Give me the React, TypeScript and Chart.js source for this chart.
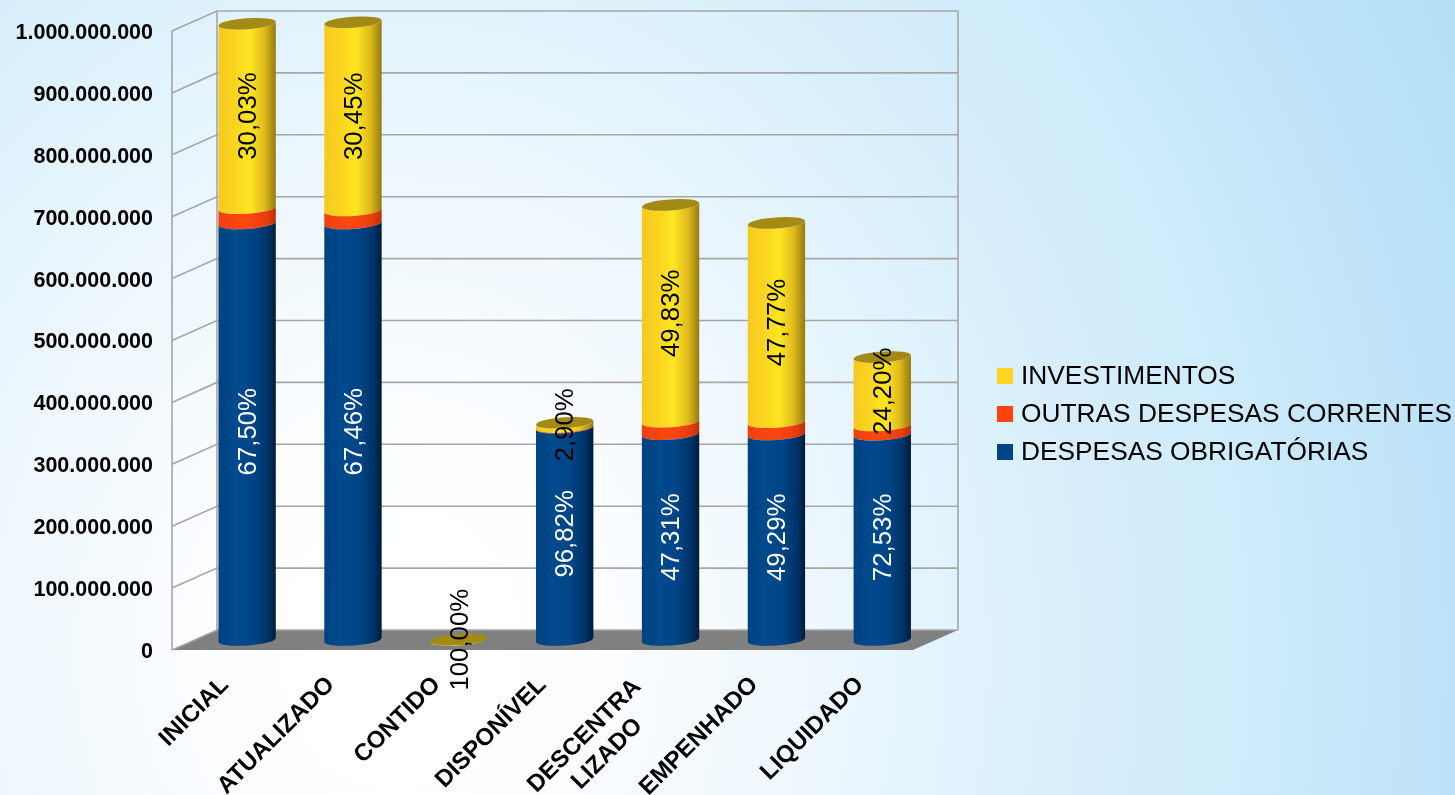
import React, { useEffect, useRef } from "react";
import { Chart, registerables, BarController } from "chart.js";

const categories = ["INICIAL", "ATUALIZADO", "CONTIDO", "DISPONÍVEL", ["DESCENTRA", "LIZADO    "], "EMPENHADO", "LIQUIDADO"];
const obrigatorias = [673e6, 673e6, 0, 343e6, 332.6e6, 332e6, 331.5e6];
const outras = [24.5e6, 21e6, 0, 1e6, 20e6, 19.8e6, 15e6];
const investimentos = [298e6, 304e6, 1e6, 7e6, 350.3e6, 322e6, 110.6e6];
const obrigatoriasLabels = ["67,50%", "67,46%", "", "96,82%", "47,31%", "49,29%", "72,53%"];
const investimentosLabels = ["30,03%", "30,45%", "100,00%", "2,90%", "49,83%", "47,77%", "24,20%"];

const FONT = "'Liberation Sans', Arial, sans-serif";
const DX = 45;
const DY = 20;
const TILT = (-4 * Math.PI) / 180;
const RY = 5.5;

const STOPS: Record<string, [number, string][]> = {
  blue: [[0, "#00427f"], [0.3, "#004a8e"], [0.6, "#004586"], [0.85, "#00346a"], [1, "#001c38"]],
  red: [[0, "#f04010"], [0.5, "#ff480e"], [0.85, "#e83c0c"], [1, "#b8300a"]],
  yellow: [[0, "#f5c91f"], [0.3, "#fbd520"], [0.55, "#ffe621"], [0.8, "#e0ba1c"], [1, "#937a10"]],
};

class CylinderController extends BarController {
  static id = "cylinder";
  static defaults = BarController.defaults;
  static overrides = BarController.overrides;
  draw() {
    const ctx = this.chart.ctx;
    const meta = this.getMeta();
    const ds: any = this.getDataset();
    const isTop = this.index === this.chart.data.datasets.length - 1;
    meta.data.forEach((bar: any, i: number) => {
      const { x, y, base, width } = bar.getProps(["x", "y", "base", "width"], true);
      const cx = x + DX / 2 - 0.3;
      const top = y - DY / 2;
      const bot = base - DY / 2;
      const rx = width / 2;
      const val = ds.data[i];
      if (!val) return;
      const g = ctx.createLinearGradient(cx - rx, 0, cx + rx, 0);
      STOPS[ds.shade].forEach(([o, c]) => g.addColorStop(o, c));
      ctx.save();
      ctx.fillStyle = g;
      ctx.beginPath();
      ctx.ellipse(cx, top, rx, RY, TILT, 0, Math.PI);
      ctx.ellipse(cx, bot, rx, RY, TILT, Math.PI, 0, true);
      ctx.closePath();
      ctx.fill();
      if (isTop) {
        ctx.fillStyle = ds.capColor;
        ctx.beginPath();
        ctx.ellipse(cx, top, rx, RY, TILT, 0, Math.PI * 2);
        ctx.fill();
      }
      ctx.restore();
    });
  }
}

Chart.register(...registerables, CylinderController);

const shiftTicksPlugin = {
  id: "shiftTicks",
  beforeDraw(chart: any) {
    const items = chart.scales.y.getLabelItems();
    if (!items.shifted) {
      items.forEach((it: any) => { it.textOffset += 2; });
      items.shifted = true;
    }
    const xItems = chart.scales.x.getLabelItems();
    if (!xItems.shifted) {
      xItems.forEach((it: any) => {
        if (Array.isArray(it.label)) {
          it.options.translation[0] -= 11;
          it.options.translation[1] += 2;
        }
      });
      xItems.shifted = true;
    }
  },
};

const wallsPlugin = {
  id: "walls",
  beforeDatasetsDraw(chart: any) {
    const { ctx, scales } = chart;
    const { x, y } = scales;
    const y0 = y.getPixelForValue(0);
    const yTop = y.getPixelForValue(1e9);
    ctx.save();
    ctx.fillStyle = "#808080";
    ctx.beginPath();
    ctx.moveTo(x.left, y0);
    ctx.lineTo(x.right, y0);
    ctx.lineTo(x.right + DX, y0 - DY);
    ctx.lineTo(x.left + DX, y0 - DY);
    ctx.closePath();
    ctx.fill();
    ctx.strokeStyle = "#a6a6a6";
    ctx.lineWidth = 1.6;
    y.ticks.forEach((t: any) => {
      const py = y.getPixelForValue(t.value);
      ctx.beginPath();
      ctx.moveTo(x.left, py);
      ctx.lineTo(x.left + DX, py - DY);
      ctx.lineTo(x.right + DX, py - DY);
      ctx.stroke();
    });
    ctx.beginPath();
    ctx.moveTo(x.left, y0);
    ctx.lineTo(x.left, yTop);
    ctx.moveTo(x.left + DX, y0 - DY);
    ctx.lineTo(x.left + DX, yTop - DY);
    ctx.moveTo(x.right + DX, y0 - DY);
    ctx.lineTo(x.right + DX, yTop - DY);
    ctx.stroke();
    ctx.restore();
  },
};

const percentPlugin = {
  id: "percent",
  afterDatasetsDraw(chart: any) {
    const { ctx } = chart;
    const sets: [number, string[], string][] = [
      [0, obrigatoriasLabels, "#ffffff"],
      [2, investimentosLabels, "#000000"],
    ];
    ctx.save();
    ctx.font = `25.8px ${FONT}`;
    ctx.textAlign = "center";
    ctx.textBaseline = "middle";
    sets.forEach(([idx, labels, color]) => {
      chart.getDatasetMeta(idx).data.forEach((bar: any, i: number) => {
        if (!labels[i]) return;
        const cx = bar.x + DX / 2 + 0.3;
        const cy = (bar.y + bar.base) / 2 - DY / 2;
        ctx.save();
        ctx.translate(cx, cy);
        ctx.rotate(-Math.PI / 2);
        ctx.fillStyle = color;
        ctx.fillText(labels[i], 0, 1);
        ctx.restore();
      });
    });
    ctx.restore();
  },
};

const legendPlugin = {
  id: "sideLegend",
  afterDraw(chart: any) {
    const { ctx } = chart;
    const entries = [...chart.data.datasets].reverse();
    ctx.save();
    ctx.font = `26.3px ${FONT}`;
    ctx.textBaseline = "middle";
    ctx.textAlign = "left";
    entries.forEach((d: any, i: number) => {
      const yc = 376 + i * 38;
      ctx.fillStyle = d.backgroundColor;
      ctx.fillRect(997, yc - 8, 16, 16);
      ctx.fillStyle = "#000";
      ctx.fillText(d.label, 1021, yc + 1);
    });
    ctx.restore();
  },
};

export default function App() {
  const ref = useRef<HTMLCanvasElement>(null);
  useEffect(() => {
    const chart = new Chart(ref.current!, {
      type: "cylinder" as any,
      data: {
        labels: categories as any,
        datasets: [
          { label: "DESPESAS OBRIGATÓRIAS", data: obrigatorias, backgroundColor: "#004586", shade: "blue", capColor: "#00305c", clip: false },
          { label: "OUTRAS DESPESAS CORRENTES", data: outras, backgroundColor: "#ff420e", shade: "red", capColor: "#b0300a", clip: false },
          { label: "INVESTIMENTOS", data: investimentos, backgroundColor: "#ffd320", shade: "yellow", capColor: "#a38a14", clip: false },
        ] as any,
      },
      options: {
        responsive: false,
        animation: false,
        layout: { padding: { left: 0, right: 542, top: 31, bottom: 0 } },
        datasets: { cylinder: { categoryPercentage: 0.543, barPercentage: 1 } } as any,
        plugins: { legend: { display: false }, tooltip: { enabled: false } },
        scales: {
          x: {
            stacked: true,
            grid: { display: false },
            border: { display: false },
            afterFit: (s: any) => { s.height = 145; },
            ticks: {
              autoSkip: false,
              minRotation: 45,
              maxRotation: 45,
              padding: 13,
              color: "#000",
              font: { family: FONT, size: 24, weight: "bold" },
            },
          },
          y: {
            stacked: true,
            min: 0,
            max: 1000000000,
            grid: { display: false },
            border: { display: false },
            afterFit: (s: any) => { s.width = 172; },
            ticks: {
              stepSize: 100000000,
              padding: 11,
              color: "#000",
              font: { family: FONT, size: 21.5, weight: "bold" },
              callback: (v: any) => String(v).replace(/\B(?=(\d{3})+(?!\d))/g, "."),
            },
          },
        },
      } as any,
      plugins: [shiftTicksPlugin, wallsPlugin, percentPlugin, legendPlugin],
    });
    return () => chart.destroy();
  }, []);
  return (
    <div
      style={{
        position: "absolute",
        left: 0,
        top: 0,
        width: 1455,
        height: 795,
        overflow: "hidden",
        background:
          "radial-gradient(ellipse 1200px 1380px at 400px 650px, #ffffff 0%, #fdfeff 15%, #edf7fd 35%, #d9f0fb 55%, #d8edfb 58%, #cfecfb 69%, #bde2f7 88.5%, #b8e2f8 94.5%, #b3dff7 100%)",
      }}
    >
      <canvas ref={ref} width={1455} height={795} style={{ display: "block" }} />
    </div>
  );
}
